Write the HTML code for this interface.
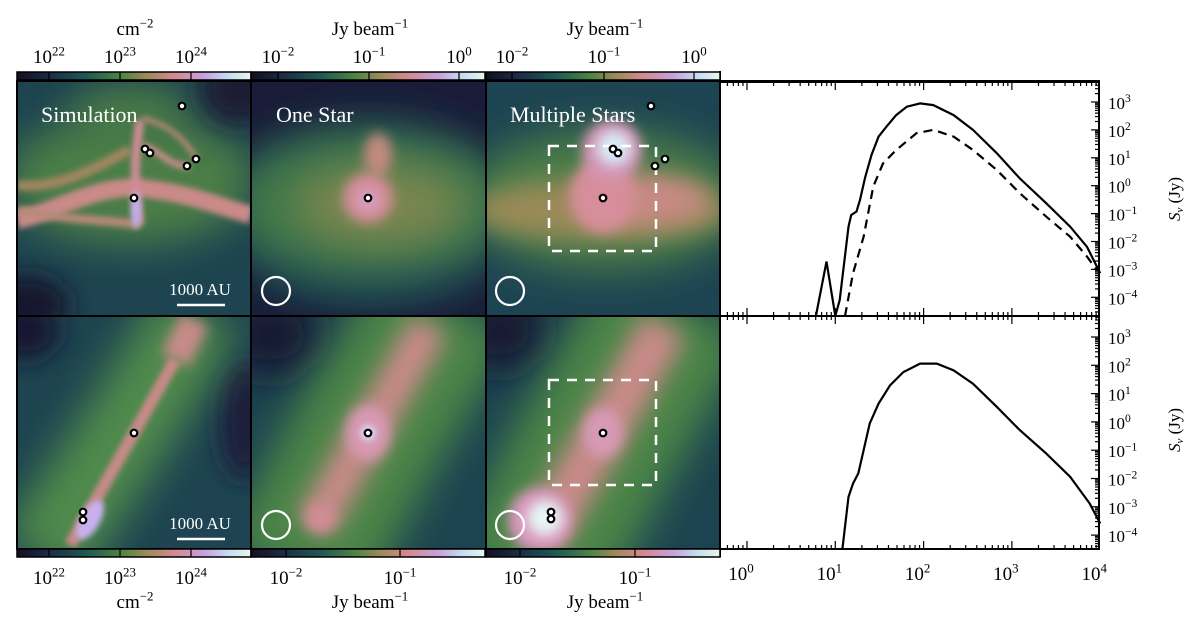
<!DOCTYPE html>
<html><head><meta charset="utf-8">
<style>
body{margin:0;background:#fff;}
#wrap{position:relative;width:1200px;height:633px;overflow:hidden;font-family:"Liberation Serif",serif;}
svg text{font-family:"Liberation Serif",serif;}
</style></head>
<body>
<div id="wrap">
<svg id="fig" width="1200" height="633" viewBox="0 0 1200 633" xmlns="http://www.w3.org/2000/svg">
<defs>
<filter id="b30" filterUnits="userSpaceOnUse" x="0" y="0" width="1200" height="633"><feGaussianBlur stdDeviation="30"/></filter>
<filter id="b20" filterUnits="userSpaceOnUse" x="0" y="0" width="1200" height="633"><feGaussianBlur stdDeviation="20"/></filter>
<filter id="b12" filterUnits="userSpaceOnUse" x="0" y="0" width="1200" height="633"><feGaussianBlur stdDeviation="12"/></filter>
<filter id="b6" filterUnits="userSpaceOnUse" x="0" y="0" width="1200" height="633"><feGaussianBlur stdDeviation="6"/></filter>
<filter id="b3" filterUnits="userSpaceOnUse" x="0" y="0" width="1200" height="633"><feGaussianBlur stdDeviation="3"/></filter>
<clipPath id="c1"><rect x="17" y="82" width="234" height="234"/></clipPath>
<clipPath id="c2"><rect x="251" y="82" width="235" height="234"/></clipPath>
<clipPath id="c3"><rect x="486" y="82" width="234" height="234"/></clipPath>
<clipPath id="c4"><rect x="17" y="316" width="234" height="233"/></clipPath>
<clipPath id="c5"><rect x="251" y="316" width="235" height="233"/></clipPath>
<clipPath id="c6"><rect x="486" y="316" width="234" height="233"/></clipPath>
<linearGradient id="cmap" x1="0" x2="1" y1="0" y2="0">
<stop offset="0" stop-color="#140f22"/><stop offset="0.15" stop-color="#1c2f48"/>
<stop offset="0.3" stop-color="#1e5a52"/><stop offset="0.45" stop-color="#4f8544"/>
<stop offset="0.55" stop-color="#9a8a58"/><stop offset="0.67" stop-color="#d28a8e"/>
<stop offset="0.8" stop-color="#c8a0dc"/><stop offset="0.9" stop-color="#c4dcf0"/>
<stop offset="1" stop-color="#e8f6f0"/>
</linearGradient>
</defs>

<g clip-path="url(#c1)">
<rect x="17" y="82" width="234" height="234" fill="#1d4450"/>
<ellipse cx="130" cy="180" rx="125" ry="65" fill="#4b7e47" filter="url(#b20)"/>
<ellipse cx="130" cy="115" rx="60" ry="30" fill="#4a7a46" filter="url(#b20)"/>
<ellipse cx="25" cy="305" rx="45" ry="30" fill="#18172e" filter="url(#b12)"/>
<ellipse cx="240" cy="90" rx="40" ry="35" fill="#1a1a36" filter="url(#b12)"/>
<path d="M17,220 C60,210 95,185 140,188 C185,192 215,205 251,215" stroke="#c98a88" stroke-width="18" fill="none" filter="url(#b3)"/>
<path d="M17,185 C60,190 100,165 130,150" stroke="#a08660" stroke-width="10" fill="none" filter="url(#b3)"/>
<path d="M140,120 C136,150 132,180 140,225" stroke="#d08c96" stroke-width="9" fill="none" filter="url(#b3)"/>
<path d="M140,225 C120,220 80,222 17,210" stroke="#b88a78" stroke-width="9" fill="none" filter="url(#b3)"/>
<path d="M142,145 C160,150 170,168 190,166" stroke="#d08c90" stroke-width="6" fill="none" filter="url(#b3)"/>
<path d="M142,118 C170,125 185,140 196,158" stroke="#b8887c" stroke-width="5" fill="none" filter="url(#b3)"/>
<ellipse cx="136" cy="210" rx="5" ry="18" fill="#c0b0ec" filter="url(#b3)"/>
</g>

<g clip-path="url(#c2)">
<rect x="251" y="82" width="235" height="234" fill="#1a1c38"/>
<ellipse cx="370" cy="215" rx="150" ry="95" fill="#1e4a52" filter="url(#b20)"/>
<ellipse cx="370" cy="205" rx="140" ry="70" fill="#3f7748" filter="url(#b20)"/>
<ellipse cx="380" cy="205" rx="85" ry="40" fill="#7a8650" filter="url(#b20)"/>
<ellipse cx="378" cy="155" rx="14" ry="22" fill="#c28a80" filter="url(#b6)"/>
<ellipse cx="368" cy="198" rx="25" ry="25" fill="#d68e9a" filter="url(#b6)"/>
<ellipse cx="368" cy="200" rx="8" ry="8" fill="#d4a8e4" filter="url(#b6)"/>
</g>

<g clip-path="url(#c3)">
<rect x="486" y="82" width="234" height="234" fill="#1d4452"/>
<ellipse cx="605" cy="200" rx="140" ry="70" fill="#4c7e46" filter="url(#b20)"/>
<ellipse cx="600" cy="210" rx="130" ry="30" fill="#9a8a58" filter="url(#b12)"/>
<ellipse cx="640" cy="200" rx="70" ry="25" fill="#c88a84" filter="url(#b12)"/>
<ellipse cx="603" cy="195" rx="32" ry="38" fill="#d68e9a" filter="url(#b6)"/>
<ellipse cx="612" cy="150" rx="30" ry="30" fill="#d496b8" filter="url(#b6)"/>
<ellipse cx="614" cy="148" rx="17" ry="17" fill="#d8ecf6" filter="url(#b6)"/>
<rect x="549" y="146" width="107" height="105" fill="none" stroke="#fff" stroke-width="2.5" stroke-dasharray="10,8"/>
</g>

<g clip-path="url(#c4)">
<rect x="17" y="316" width="234" height="233" fill="#1d4450"/>
<ellipse cx="25" cy="330" rx="35" ry="30" fill="#171530" filter="url(#b12)"/>
<ellipse cx="245" cy="420" rx="25" ry="60" fill="#1a1c3a" filter="url(#b12)"/>
<path d="M40,560 L120,440 L200,310" stroke="#4f8a4c" stroke-width="90" fill="none" filter="url(#b20)"/>
<path d="M70,545 L134,433 L175,360" stroke="#c88a88" stroke-width="12" fill="none" filter="url(#b3)"/>
<path d="M175,360 L195,320" stroke="#c88a88" stroke-width="30" fill="none" filter="url(#b6)"/>
<ellipse cx="90" cy="520" rx="10" ry="22" transform="rotate(30 90 520)" fill="#c8b0ec" filter="url(#b3)"/>
</g>

<g clip-path="url(#c5)">
<rect x="251" y="316" width="235" height="233" fill="#1c4450"/>
<ellipse cx="270" cy="335" rx="50" ry="40" fill="#181830" filter="url(#b20)"/>
<path d="M290,580 L368,433 L450,300" stroke="#4b8547" stroke-width="150" fill="none" filter="url(#b20)"/>
<path d="M315,525 L368,433 L430,325" stroke="#c98a88" stroke-width="40" fill="none" filter="url(#b12)"/>
<ellipse cx="368" cy="433" rx="22" ry="28" fill="#d89ab4" filter="url(#b6)"/>
<ellipse cx="368" cy="433" rx="8" ry="8" fill="#dcd0f4" filter="url(#b3)"/>
<ellipse cx="320" cy="518" rx="16" ry="16" fill="#d08c94" filter="url(#b6)"/>
</g>

<g clip-path="url(#c6)">
<rect x="486" y="316" width="234" height="233" fill="#1c4450"/>
<ellipse cx="500" cy="330" rx="45" ry="40" fill="#181830" filter="url(#b20)"/>
<path d="M520,590 L603,433 L680,300" stroke="#4b8547" stroke-width="160" fill="none" filter="url(#b20)"/>
<path d="M540,540 L603,433 L665,325" stroke="#c98a88" stroke-width="48" fill="none" filter="url(#b12)"/>
<ellipse cx="603" cy="433" rx="20" ry="25" fill="#d69ab6" filter="url(#b6)"/>
<ellipse cx="540" cy="520" rx="32" ry="32" fill="#d896bc" filter="url(#b6)"/>
<ellipse cx="545" cy="518" rx="18" ry="18" fill="#e6f4f4" filter="url(#b6)"/>
<rect x="549" y="380" width="107" height="105" fill="none" stroke="#fff" stroke-width="2.5" stroke-dasharray="10,8"/>
</g>

<g fill="none" stroke="#000" stroke-width="2">
<rect x="17" y="81" width="1082" height="468"/>
<line x1="251" y1="81" x2="251" y2="549"/>
<line x1="486" y1="81" x2="486" y2="549"/>
<line x1="720" y1="71" x2="720" y2="557"/>
<line x1="17" y1="316" x2="1099" y2="316"/>
</g>

<text x="41" y="122" font-size="22" fill="#fff">Simulation</text>
<text x="276" y="122" font-size="22" fill="#fff">One Star</text>
<text x="510" y="122" font-size="22" fill="#fff">Multiple Stars</text>

<g>
<text x="200" y="295" font-size="17" fill="#fff" text-anchor="middle">1000 AU</text>
<line x1="177" y1="305" x2="225" y2="305" stroke="#fff" stroke-width="2.5"/>
</g>
<g>
<text x="200" y="529" font-size="17" fill="#fff" text-anchor="middle">1000 AU</text>
<line x1="177" y1="539" x2="225" y2="539" stroke="#fff" stroke-width="2.5"/>
</g>

<g fill="none" stroke="#fff" stroke-width="2.2">
<circle cx="276" cy="291" r="14"/><circle cx="510" cy="291" r="14"/>
<circle cx="276" cy="525" r="14"/><circle cx="510" cy="525" r="14"/>
</g>

<g id="stars"></g>
<g id="cbars"></g>
<g id="sed"></g>
</svg>
</div>
<script>
const topSolidLogLam = [0.78,0.90,1.00,1.05,1.15,1.18,1.24,1.28,1.34,1.41,1.49,1.58,1.69,1.81,1.96,2.11,2.34,2.56,2.83,3.09,3.39,3.66,3.85,4.00];
const topSolidLogS   = [-4.7,-2.72,-4.7,-4.10,-1.47,-1.05,-0.93,-0.51,0.32,1.10,1.76,2.12,2.53,2.83,2.95,2.89,2.53,2.0,1.16,0.26,-0.63,-1.47,-2.19,-3.14];
const topDashLogLam = [1.11,1.20,1.32,1.43,1.54,1.69,1.92,2.11,2.34,2.56,2.83,3.09,3.39,3.66,3.85,3.96];
const topDashLogS   = [-4.7,-3.14,-1.83,-0.03,0.80,1.28,1.88,2.0,1.76,1.28,0.56,-0.27,-1.11,-1.83,-2.54,-3.02];
const botLogLam = [1.08,1.15,1.20,1.26,1.32,1.39,1.49,1.62,1.77,1.96,2.15,2.34,2.56,2.83,3.09,3.39,3.66,3.88,4.00];
const botLogS   = [-4.6,-2.65,-2.18,-1.82,-1.0,-0.06,0.65,1.29,1.76,2.06,2.06,1.82,1.35,0.53,-0.29,-1.12,-1.94,-2.88,-3.59];
const xDecades = [0,1,2,3,4];
const yDecades = [3,2,1,0,-1,-2,-3,-4];

const NS='http://www.w3.org/2000/svg';
function mk(tag, attrs, parent){const e=document.createElementNS(NS,tag);for(const k in attrs)e.setAttribute(k,attrs[k]);parent.appendChild(e);return e;}
const xS = l => 747 + 88.3*l;
const yTop = s => 102 + (3-s)*27.9;
const yBot = s => 337 + (3-s)*28.3;
const sed = document.getElementById('sed');

function curve(lx, ly, yf, dash, name, y0, y1){
  const pts = lx.map((l,i)=>xS(l).toFixed(1)+','+Math.min(y1,Math.max(y0,yf(ly[i]))).toFixed(1)).join(' ');
  const p = mk('polyline',{points:pts,fill:'none',stroke:'#000','stroke-width':2.2},sed);
  if(dash) p.setAttribute('stroke-dasharray','9,6');
  
  
}
curve(topSolidLogLam, topSolidLogS, yTop, false, 'sed-total-line', 82, 316);
curve(topDashLogLam, topDashLogS, yTop, true, 'sed-single-star-dashed-line', 82, 316);
curve(botLogLam, botLogS, yBot, false, 'sed-bottom-line', 316, 549);

[[82,316],[316,549]].forEach(([yt,yb])=>{
  for(let d=-1; d<4; d++){
    for(let m=1;m<10;m++){
      const l=d+Math.log10(m); const x=xS(l);
      if(x<721||x>1099) continue;
      const len = m===1?8:4;
      mk('line',{x1:x,x2:x,y1:yt,y2:yt+len,stroke:'#000','stroke-width':1.2},sed);
      mk('line',{x1:x,x2:x,y1:yb,y2:yb-len,stroke:'#000','stroke-width':1.2},sed);
    }
  }
});
[[yTop,82,316],[yBot,316,549]].forEach(([yf,y0,y1])=>{
  for(let d=-5; d<4; d++){
    for(let m=1;m<10;m++){
      const y=yf(d+Math.log10(m));
      if(y<y0||y>y1) continue;
      const len=m===1?8:4;
      mk('line',{x1:1099-len,x2:1099,y1:y,y2:y,stroke:'#000','stroke-width':1.2},sed);
    }
  }
});
mk('line',{x1:720,x2:1099,y1:82,y2:82,stroke:'#000','stroke-width':2},sed);
mk('line',{x1:1099,x2:1099,y1:82,y2:549,stroke:'#000','stroke-width':2},sed);

function powLabel(parent,x,y,base,exp,size,anchor,name){
  const t=mk('text',{x:x,y:y,'font-size':size,'text-anchor':anchor||'start'},parent);
  
  
  const a=document.createElementNS(NS,'tspan');a.textContent=base;t.appendChild(a);
  const b=document.createElementNS(NS,'tspan');b.setAttribute('dy',-size*0.4);b.setAttribute('font-size',size*0.68);b.textContent=exp;t.appendChild(b);
  return t;
}
xDecades.forEach(d=>{
  powLabel(sed,xS(d)-6,580,'10',String(d).replace('-','\u2212'),19,'middle','sed-x-tick-label');
});
yDecades.forEach(d=>{
  powLabel(sed,1108,yTop(d)+7,'10',String(d).replace('-','\u2212'),17,'start','sed-y-tick-label-top');
  powLabel(sed,1108,yBot(d)+7,'10',String(d).replace('-','\u2212'),17,'start','sed-y-tick-label-bottom');
});
[199,430].forEach(cy=>{
  const t=mk('text',{x:0,y:0,'font-size':17,'text-anchor':'middle',transform:`translate(1180,${cy}) rotate(-90)`},sed);
  
  
  t.innerHTML='<tspan font-style="italic">S</tspan><tspan font-size="11" dy="3" font-style="italic">ν</tspan><tspan dy="-3"> (Jy)</tspan>';
});

const starX = [182,145,150,187,196,134, 368, 651,613,618,655,665,603, 134,83,83, 368, 603,551,551];
const starY = [106,149,153,166,159,198, 198, 106,149,153,166,159,198, 433,512,520, 433, 433,512,519];
const stars=document.getElementById('stars');
starX.forEach((x,i)=>{
  const c=mk('circle',{cx:x,cy:starY[i],r:3.3,fill:'#fff',stroke:'#000','stroke-width':2.2},stars);
  
  
});

const cbars=document.getElementById('cbars');
const cbDefs = [
 {x:17,y:72,ticks:[49,120,191],exps:['22','23','24'],title:'cm',tx:135,top:true},
 {x:251,y:72,ticks:[278,369,459],exps:['\u22122','\u22121','0'],title:'Jy beam',tx:370,top:true},
 {x:486,y:72,ticks:[512,604,694],exps:['\u22122','\u22121','0'],title:'Jy beam',tx:605,top:true},
 {x:17,y:549,ticks:[49,120,191],exps:['22','23','24'],title:'cm',tx:135,top:false},
 {x:251,y:549,ticks:[286,400],exps:['\u22122','\u22121'],title:'Jy beam',tx:370,top:false},
 {x:486,y:549,ticks:[520,635],exps:['\u22122','\u22121'],title:'Jy beam',tx:605,top:false},
];
cbDefs.forEach(cb=>{
  const r=mk('rect',{x:cb.x,y:cb.y,width:234,height:8,fill:'url(#cmap)',stroke:'#000','stroke-width':1.5},cbars);
  
  
  cb.ticks.forEach((tx,i)=>{
    mk('line',{x1:tx,x2:tx,y1:cb.y,y2:cb.y+8,stroke:'#000','stroke-width':1.2},cbars);
    powLabel(cbars,tx,cb.top?63:584,'10',cb.exps[i],19,'middle','colorbar-tick-label');
  });
  powLabel(cbars,cb.tx,cb.top?35:608,cb.title,cb.title==='cm'?'\u22122':'\u22121',19,'middle','colorbar-title');
});
</script>
</body></html>
